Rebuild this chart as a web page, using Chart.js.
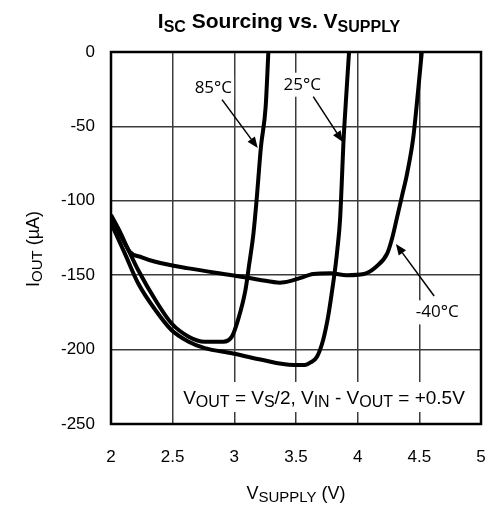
<!DOCTYPE html>
<html><head><meta charset="utf-8">
<script src="https://cdn.jsdelivr.net/npm/chart.js@4/dist/chart.umd.min.js"></script>
<style>html,body{margin:0;padding:0;background:#fff}#wrap{width:491px;height:508px}</style>
</head><body><div id="wrap"><canvas id="c" width="491" height="508"></canvas></div>
<script>
// Data
const seriesNames = ['85°C', '25°C', '-40°C'];
const x85 = [2.0, 2.07, 2.14, 2.22, 2.36, 2.49, 2.63, 2.76, 2.91, 2.98, 3.03, 3.09, 3.12, 3.155, 3.18, 3.216, 3.254, 3.276];
const y85 = [-110, -122, -133, -146.5, -166.7, -182.3, -191.3, -194.7, -194.7, -191.3, -180, -160, -143, -122, -100, -63.6, -36.7, 0];
const x25 = [2.0, 2.11, 2.22, 2.36, 2.49, 2.63, 2.76, 2.98, 3.2, 3.48, 3.57, 3.62, 3.67, 3.72, 3.76, 3.79, 3.82, 3.835, 3.857, 3.87, 3.884, 3.91, 3.93];
const y25 = [-115, -135, -155.4, -173.4, -186.8, -194.7, -199, -202.5, -206.5, -210.4, -210.4, -208.5, -204.8, -193.5, -178, -162, -144, -133, -113, -90, -62, -26, 0];
const xM40 = [2.0, 2.08, 2.15, 2.25, 2.36, 2.63, 2.98, 3.2, 3.37, 3.45, 3.53, 3.64, 3.78, 3.91, 4.05, 4.15, 4.24, 4.28, 4.317, 4.36, 4.40, 4.45, 4.49, 4.52];
const yM40 = [-109.5, -122, -134, -138, -141, -145.4, -150, -153, -155, -154, -152, -149.2, -148.7, -150, -149.2, -144.3, -135.3, -125, -112, -96.5, -82, -58, -26, 0];
const xTicks = [2, 2.5, 3, 3.5, 4, 4.5, 5];
const yTicks = [0, -50, -100, -150, -200, -250];

// Annotation anchors (data units): label centre, arrow start, arrow tip
const labels = [
  {text: '85°C', lx: 2.83, ly: -24, ax: 2.90, ay: -32, tx: 3.19, ty: -64.5},
  {text: '25°C', lx: 3.55, ly: -22, ax: 3.64, ay: -30, tx: 3.88, ty: -60.5},
  {text: '-40°C', lx: 4.645, ly: -175, ax: 4.62, ay: -164, tx: 4.31, ty: -129}
];

function pts(xs, ys) { return xs.map((x, i) => ({x: x, y: ys[i]})); }

function drawRich(ctx, parts, x, y, align, size, subSize, subShift, weight, draw) {
  let w = 0;
  parts.forEach(p => { ctx.font = weight + ' ' + (p.sub ? subSize : size) + 'px "Liberation Sans", Arial, sans-serif'; w += ctx.measureText(p.t).width; });
  let cx = align === 'center' ? x - w / 2 : (align === 'right' ? x - w : x);
  const start = cx;
  if (draw === false) return {start: start, width: w};
  ctx.textAlign = 'left';
  ctx.textBaseline = 'alphabetic';
  parts.forEach(p => {
    ctx.font = weight + ' ' + (p.sub ? subSize : size) + 'px "Liberation Sans", Arial, sans-serif';
    ctx.fillText(p.t, cx, y + (p.sub ? subShift : 0));
    cx += ctx.measureText(p.t).width;
  });
  return {start: start, width: w};
}

const deco = {
  id: 'deco',
  afterDraw(chart) {
    const ctx = chart.ctx, xs = chart.scales.x, ys = chart.scales.y, ca = chart.chartArea;
    ctx.save();
    // frame
    ctx.strokeStyle = '#000'; ctx.lineWidth = 2.5;
    ctx.strokeRect(ca.left, ca.top, ca.right - ca.left, ca.bottom - ca.top);
    ctx.fillStyle = '#000';
    // title
    drawRich(ctx, [{t:'I'},{t:'SC',sub:true},{t:' Sourcing vs. V'},{t:'SUPPLY',sub:true}], 279, 28, 'center', 21, 16, 4, 'bold');
    // x title
    drawRich(ctx, [{t:'V'},{t:'SUPPLY',sub:true},{t:' (V)'}], 296, 499, 'center', 18, 15, 3, 'normal');
    // y title
    ctx.save();
    ctx.translate(39, 249);
    ctx.rotate(-Math.PI / 2);
    drawRich(ctx, [{t:'I'},{t:'OUT',sub:true},{t:' (µA)'}], 0, 0, 'center', 18, 15, 3, 'normal');
    ctx.restore();
    // condition text with white box
    const cparts = [{t:'V'},{t:'OUT',sub:true},{t:' = V'},{t:'S',sub:true},{t:'/2, V'},{t:'IN',sub:true},{t:' - V'},{t:'OUT',sub:true},{t:' = +0.5V'}];
    const m = drawRich(ctx, cparts, 324, 404, 'center', 19, 16, 3, 'normal', false);
    ctx.fillStyle = '#fff';
    ctx.fillRect(m.start - 4, 382, m.width + 8, 30);
    ctx.fillStyle = '#000';
    drawRich(ctx, cparts, 324, 404, 'center', 19, 16, 3, 'normal');
    // temperature labels with arrows
    labels.forEach(l => {
      const lx = xs.getPixelForValue(l.lx), ly = ys.getPixelForValue(l.ly);
      ctx.font = '17px "Open Sans", sans-serif';
      const w = ctx.measureText(l.text).width;
      ctx.fillStyle = '#fff';
      ctx.fillRect(lx - w / 2 - 2, ly - 12, w + 4, 24);
      ctx.fillStyle = '#000';
      ctx.textAlign = 'center'; ctx.textBaseline = 'middle';
      ctx.fillText(l.text, lx, ly);
      const ax = xs.getPixelForValue(l.ax), ay = ys.getPixelForValue(l.ay);
      const tx = xs.getPixelForValue(l.tx), ty = ys.getPixelForValue(l.ty);
      const ang = Math.atan2(ty - ay, tx - ax);
      const hl = 11, hw = 4.5;
      const bx = tx - hl * Math.cos(ang), by = ty - hl * Math.sin(ang);
      ctx.strokeStyle = '#000'; ctx.lineWidth = 1.5;
      ctx.beginPath(); ctx.moveTo(ax, ay); ctx.lineTo(bx, by); ctx.stroke();
      ctx.beginPath();
      ctx.moveTo(tx, ty);
      ctx.lineTo(bx + hw * Math.sin(ang), by - hw * Math.cos(ang));
      ctx.lineTo(bx - hw * Math.sin(ang), by + hw * Math.cos(ang));
      ctx.closePath(); ctx.fill();
    });
    ctx.restore();
  }
};

const lineStyle = {borderColor: '#000', borderWidth: 4, pointRadius: 0, fill: false, cubicInterpolationMode: 'monotone'};

new Chart(document.getElementById('c'), {
  type: 'line',
  data: {
    datasets: [
      Object.assign({label: seriesNames[0], data: pts(x85, y85)}, lineStyle),
      Object.assign({label: seriesNames[1], data: pts(x25, y25)}, lineStyle),
      Object.assign({label: seriesNames[2], data: pts(xM40, yM40)}, lineStyle)
    ]
  },
  options: {
    responsive: false,
    animation: false,
    devicePixelRatio: 1,
    layout: {padding: {top: 52, right: 10, left: 0, bottom: 0}},
    plugins: {legend: {display: false}, title: {display: false}, tooltip: {enabled: false}},
    scales: {
      x: {
        type: 'linear', min: 2, max: 5,
        afterBuildTicks: s => { s.ticks = xTicks.map(v => ({value: v})); },
        afterFit: s => { s.height = 84; s.paddingLeft = 0; s.paddingRight = 0; },
        grid: {color: '#3c3c3c', lineWidth: 1.5, drawTicks: false},
        border: {display: false},
        ticks: {color: '#000', padding: 23, maxRotation: 0, callback: v => String(v), font: {family: '"Liberation Sans", Arial, sans-serif', size: 17}}
      },
      y: {
        type: 'linear', min: -250, max: 0,
        afterBuildTicks: s => { s.ticks = yTicks.map(v => ({value: v})); },
        afterFit: s => { s.width = 111; s.paddingTop = 0; s.paddingBottom = 0; },
        grid: {color: '#3c3c3c', lineWidth: 1.5, drawTicks: false},
        border: {display: false},
        ticks: {color: '#000', padding: 16, callback: v => String(v), font: {family: '"Liberation Sans", Arial, sans-serif', size: 17}}
      }
    }
  },
  plugins: [deco]
});
</script>
</body></html>
